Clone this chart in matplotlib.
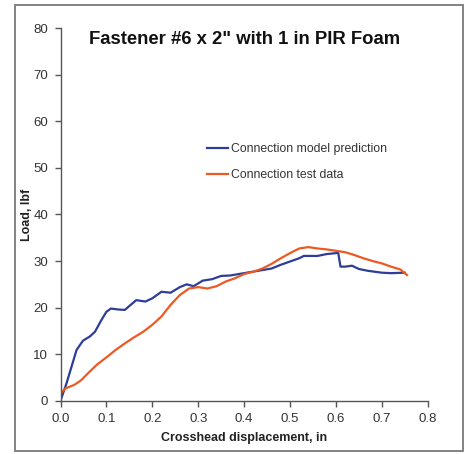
import matplotlib.pyplot as plt
from matplotlib.patches import Rectangle

plt.rcParams['font.family'] = ['Liberation Sans', 'DejaVu Sans']

# Connection model prediction (blue)
model_x = [0.0, 0.013, 0.024, 0.035, 0.049, 0.064, 0.075, 0.089, 0.1, 0.11, 0.125, 0.14,
           0.165, 0.185, 0.2, 0.22, 0.24, 0.26, 0.275, 0.29, 0.31, 0.33, 0.35, 0.37,
           0.4, 0.43, 0.46, 0.48, 0.5, 0.52, 0.53, 0.56, 0.58, 0.6, 0.605, 0.61,
           0.62, 0.635, 0.65, 0.67, 0.7, 0.72, 0.75]
model_y = [0.0, 3.7, 7.3, 10.9, 12.9, 13.8, 14.8, 17.3, 19.1, 19.8, 19.6, 19.5,
           21.6, 21.3, 22.0, 23.4, 23.2, 24.4, 25.0, 24.6, 25.8, 26.1, 26.8, 26.9,
           27.4, 27.9, 28.4, 29.2, 29.9, 30.6, 31.1, 31.1, 31.5, 31.7, 31.8, 28.8,
           28.8, 29.0, 28.3, 27.9, 27.5, 27.4, 27.5]

# Connection test data (orange)
test_x = [0.0, 0.01, 0.03, 0.045, 0.06, 0.08, 0.1, 0.12, 0.14, 0.16, 0.18, 0.2,
          0.22, 0.24, 0.26, 0.28, 0.3, 0.32, 0.34, 0.36, 0.38, 0.4, 0.42, 0.44,
          0.46, 0.48, 0.5, 0.52, 0.54, 0.56, 0.58, 0.6, 0.62, 0.64, 0.66, 0.68,
          0.7, 0.72, 0.74, 0.75, 0.755]
test_y = [1.5, 2.6, 3.4, 4.4, 5.9, 7.8, 9.3, 10.9, 12.3, 13.6, 14.8, 16.3,
          18.1, 20.6, 22.7, 24.1, 24.4, 24.1, 24.6, 25.6, 26.3, 27.2, 27.7, 28.4,
          29.4, 30.6, 31.7, 32.7, 33.0, 32.7, 32.5, 32.2, 31.9, 31.3, 30.6, 30.0,
          29.5, 28.8, 28.2, 27.4, 27.0]

x_ticks = [0.0, 0.1, 0.2, 0.3, 0.4, 0.5, 0.6, 0.7, 0.8]
y_ticks = [0, 10, 20, 30, 40, 50, 60, 70, 80]

fig = plt.figure(figsize=(4.67, 4.54), dpi=100)
ax = fig.add_axes([60.5 / 467, 1 - 400.7 / 454, 367.2 / 467, 372.4 / 454])

# outer frame around the whole chart
fig.patches.append(Rectangle((15 / 467, 3 / 454), 448 / 467, 446 / 454,
                             transform=fig.transFigure, fill=False,
                             edgecolor='#7a7a7a', linewidth=1.3))

ax.plot(model_x, model_y, color='#2e3d98', linewidth=1.6, label='Connection model prediction')
ax.plot(test_x, test_y, color='#ec5a24', linewidth=1.6, label='Connection test data')

ax.set_xlim(0, 0.8)
ax.set_ylim(0, 80)
ax.set_xticks(x_ticks)
ax.set_yticks(y_ticks)
ax.set_xticklabels([f'{t:.1f}' for t in x_ticks])
for s in ['top', 'right']:
    ax.spines[s].set_visible(False)
for s in ['left', 'bottom']:
    ax.spines[s].set_color('#555555')
    ax.spines[s].set_linewidth(1.0)
ax.tick_params(direction='out', length=4, width=1, color='#555555',
               labelsize=9.5, labelcolor='#333333', pad=5)

ax.set_xlabel('Crosshead displacement, in', fontsize=9, fontweight='bold',
              color='#222222', labelpad=5)
ax.set_ylabel('Load, lbf', fontsize=9, fontweight='bold', color='#222222')
ax.yaxis.set_label_coords(-0.076, 0.5)
ax.set_title('Fastener #6 x 2" with 1 in PIR Foam', fontsize=13.3, fontweight='bold',
             color='#111111', y=0.935)

ax.legend(loc='center left', bbox_to_anchor=(0.399, 0.64), frameon=False,
          borderpad=0, borderaxespad=0,
          fontsize=8.8, handlelength=1.75, handletextpad=0.25, labelspacing=1.15,
          labelcolor='#333333')

fig.savefig('out.png', dpi=100)
